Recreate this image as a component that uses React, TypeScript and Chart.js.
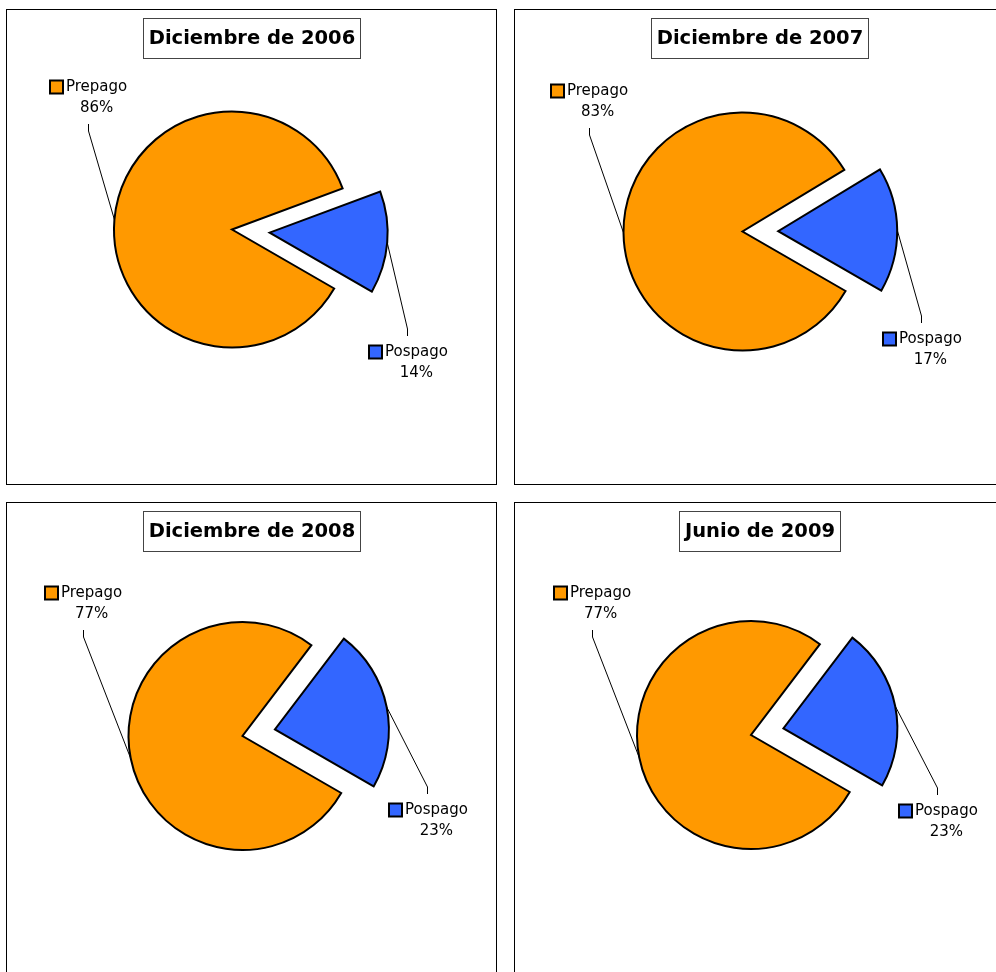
import React, { useEffect, useRef } from "react";
import { Chart, registerables } from "chart.js";

Chart.register(...registerables);

// ---------- data ----------
const CATEGORIES = ["Prepago", "Pospago"];
const PERIODS = ["Diciembre de 2006", "Diciembre de 2007", "Diciembre de 2008", "Junio de 2009"];
const PREPAGO = [86, 83, 77, 77];
const POSPAGO = [14, 17, 23, 23];
const SLICE_COLORS = ["#FF9900", "#3366FF"];

// ---------- layout ----------
const PANEL_POS = [
  [6, 9],
  [514, 9],
  [6, 502],
  [514, 502],
];
const PANEL_W = 491;
const PANEL_H = 476;
const CANVAS_W = PANEL_W - 2;
const CANVAS_H = PANEL_H - 2;
const PIE_CENTER = [
  [225, 219.5],
  [227.5, 221.5],
  [235.5, 233],
  [236, 232],
];
const PIE_RADIUS = [118, 119, 114, 114];
const EXPLODE = [
  [0, 0.32],
  [0, 0.3],
  [0, 0.29],
  [0, 0.29],
];
const LABEL_ANCHORS = [
  [[81, 114], [400, 326]],
  [[74, 118], [406, 313]],
  [[76, 127], [420, 291]],
  [[77, 127], [422, 292]],
];
const ROTATION = 120;
const LABEL_FONT = "15px 'DejaVu Sans'";
const TITLE_FONT = "bold 19.5px 'DejaVu Sans'";

function makeExplodePlugin(fractions: number[]) {
  return {
    id: "explode",
    afterDatasetsUpdate(chart: any) {
      const meta = chart.getDatasetMeta(0);
      meta.data.forEach((el: any, i: number) => {
        const f = fractions[i] || 0;
        if (!f) return;
        const a = (el.startAngle + el.endAngle) / 2;
        const d = f * el.outerRadius;
        el.x += Math.cos(a) * d;
        el.y += Math.sin(a) * d;
      });
    },
  };
}

function makeCalloutPlugin(anchors: number[][]) {
  return {
    id: "callouts",
    afterDatasetsDraw(chart: any) {
      const ctx = chart.ctx as CanvasRenderingContext2D;
      const meta = chart.getDatasetMeta(0);
      const values = chart.data.datasets[0].data as number[];
      const colors = chart.data.datasets[0].backgroundColor as string[];
      const total = values.reduce((a, b) => a + b, 0);
      meta.data.forEach((el: any, i: number) => {
        const a = (el.startAngle + el.endAngle) / 2;
        const px = el.x + Math.cos(a) * el.outerRadius;
        const py = el.y + Math.sin(a) * el.outerRadius;
        const ax = Math.round(anchors[i][0]) + 0.5;
        const ay = Math.round(anchors[i][1]);
        const above = ay < py;
        const bendY = above ? ay + 7 : ay - 7;
        ctx.save();
        ctx.strokeStyle = "#000";
        ctx.lineWidth = 1;
        ctx.beginPath();
        ctx.moveTo(px, py);
        ctx.lineTo(ax, bendY);
        ctx.lineTo(ax, ay);
        ctx.stroke();

        ctx.font = LABEL_FONT;
        const name = String(chart.data.labels[i]);
        const pct = Math.round((values[i] / total) * 100) + "%";
        const tw = ctx.measureText(name).width;
        const boxW = 17 + tw;
        const left = Math.round(ax - boxW / 2);
        const nameY = above ? ay - 37 : ay + 16;
        const pctY = above ? ay - 16 : ay + 37;
        ctx.fillStyle = colors[i];
        ctx.fillRect(left + 1, nameY - 6.5, 13, 13);
        ctx.lineWidth = 2;
        ctx.strokeStyle = "#000";
        ctx.strokeRect(left + 1, nameY - 6.5, 13, 13);
        ctx.fillStyle = "#000";
        ctx.textBaseline = "middle";
        ctx.textAlign = "left";
        ctx.fillText(name, left + 17, nameY);
        ctx.textAlign = "center";
        ctx.fillText(pct, left + 17 + tw / 2, pctY);
        ctx.restore();
      });
    },
  };
}

function makeTitlePlugin(title: string) {
  return {
    id: "titleBox",
    afterDraw(chart: any) {
      const ctx = chart.ctx as CanvasRenderingContext2D;
      const W = chart.width;
      ctx.save();
      ctx.font = TITLE_FONT;
      const tw = ctx.measureText(title).width;
      const bw = Math.round(tw + 11);
      const bh = 40;
      const bx = Math.round(W / 2 - bw / 2) + 0.5;
      const by = 8.5;
      ctx.fillStyle = "#fff";
      ctx.fillRect(bx, by, bw, bh);
      ctx.strokeStyle = "#444";
      ctx.lineWidth = 1;
      ctx.strokeRect(bx, by, bw, bh);
      ctx.fillStyle = "#000";
      ctx.textAlign = "center";
      ctx.textBaseline = "alphabetic";
      ctx.fillText(title, bx + bw / 2, by + 25);
      ctx.restore();
    },
  };
}

function PiePanel({ index }: { index: number }) {
  const ref = useRef<HTMLCanvasElement | null>(null);
  useEffect(() => {
    if (!ref.current) return;
    const [cx, cy] = PIE_CENTER[index];
    const s = 125;
    const chart = new Chart(ref.current, {
      type: "pie",
      data: {
        labels: CATEGORIES,
        datasets: [
          {
            data: [PREPAGO[index], POSPAGO[index]],
            backgroundColor: SLICE_COLORS,
            borderColor: "#000",
            borderWidth: 2,
            borderJoinStyle: "miter",
          } as any,
        ],
      },
      options: {
        animation: false,
        responsive: false,
        devicePixelRatio: 1,
        events: [],
        rotation: ROTATION,
        radius: PIE_RADIUS[index],
        layout: {
          padding: {
            left: cx - s,
            right: CANVAS_W - cx - s,
            top: cy - s,
            bottom: CANVAS_H - cy - s,
          },
        },
        plugins: {
          legend: { display: false },
          tooltip: { enabled: false },
          title: { display: false },
        },
      } as any,
      plugins: [
        makeExplodePlugin(EXPLODE[index]),
        makeCalloutPlugin(LABEL_ANCHORS[index]),
        makeTitlePlugin(PERIODS[index]),
      ],
    });
    return () => chart.destroy();
  }, [index]);

  const [left, top] = PANEL_POS[index];
  return (
    <div
      style={{
        position: "absolute",
        left,
        top,
        width: PANEL_W,
        height: PANEL_H,
        border: "1px solid #000",
        boxSizing: "border-box",
        background: "#fff",
      }}
    >
      <canvas
        ref={ref}
        width={CANVAS_W}
        height={CANVAS_H}
        style={{ display: "block", width: CANVAS_W, height: CANVAS_H }}
      />
    </div>
  );
}

export default function App() {
  return (
    <div
      style={{
        position: "absolute",
        left: 0,
        top: 0,
        width: 996,
        height: 972,
        overflow: "hidden",
        background: "#fff",
      }}
    >
      {PERIODS.map((_, i) => (
        <PiePanel key={i} index={i} />
      ))}
    </div>
  );
}
